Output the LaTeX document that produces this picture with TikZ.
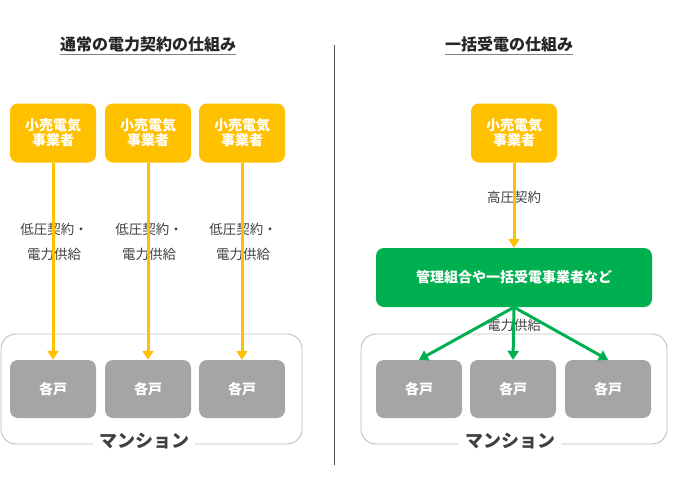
\documentclass[tikz,border=0pt]{standalone}
\usepackage{fontspec}
\setmainfont{Noto Sans CJK JP}
\usetikzlibrary{arrows.meta}
\definecolor{orng}{HTML}{FFC000}
\definecolor{grn}{HTML}{00B050}
\definecolor{gbox}{HTML}{A5A5A5}
\definecolor{gline}{HTML}{BFBFBF}
\definecolor{txt}{HTML}{404040}
\begin{document}
\begin{tikzpicture}[x=1pt,y=-1pt,
  supbox/.style={fill=orng,rounded corners=8pt,minimum width=86pt,minimum height=59pt,text=white,font=\fontsize{14}{17}\selectfont\bfseries,align=center,inner sep=0pt},
  unitbox/.style={fill=gbox,rounded corners=8pt,minimum width=86pt,minimum height=58pt,text=white,font=\fontsize{14}{17}\selectfont\bfseries,inner sep=0pt},
  mgrbox/.style={fill=grn,rounded corners=8pt,minimum width=276pt,minimum height=59pt,text=white,font=\fontsize{14}{17}\selectfont\bfseries,inner sep=0pt},
  mansion/.style={draw=gline,line width=0.9pt,rounded corners=15pt},
  mlabel/.style={fill=white,text=txt,font=\fontsize{18}{20}\selectfont\bfseries,inner xsep=6pt,inner ysep=0pt},
  lbl/.style={text=txt,font=\fontsize{13.5}{25}\selectfont,align=center},
  ttl/.style={text=black!85,font=\fontsize{16}{18}\selectfont\bfseries,inner sep=0pt},
  oarr/.style={draw=orng,line width=3pt,-{Triangle[width=11pt,length=9pt]}},
  garr/.style={draw=grn,line width=3pt,-{Triangle[width=11pt,length=9pt]}},
  uline/.style={draw=gray,line width=0.9pt}
]
\useasboundingbox (0,0) rectangle (679,479);
% titles
\node[ttl] (t1) at (148,44) {通常の電力契約の仕組み};
\node[ttl] (t2) at (509,44) {一括受電の仕組み};
\draw[uline] (t1.south west) ++(0,3) coordinate (u1a) -- (u1a -| t1.south east);
\draw[uline] (t2.south west) ++(0,3) coordinate (u2a) -- (u2a -| t2.south east);
% divider
\coordinate (dtop) at (334,45);
\coordinate (dbot) at (334,465);
\draw[draw=txt!90,line width=0.9pt] (dtop) -- (dbot);
% left mansion
\draw[mansion] (1,334) rectangle (302,444);
\node[mlabel] (m1) at (144,441) {マンション};
% right mansion
\draw[mansion] (361,334) rectangle (667,444);
\node[mlabel] (m2) at (510,441) {マンション};
% left side
\foreach \i/\x in {1/53,2/148,3/242}{
  \node[supbox] (s\i) at (\x,133) {小売電気\\[-2pt]事業者};
  \node[unitbox] (h\i) at (\x,389) {各戸};
  \node[lbl] (l\i) at (\x+1,242) {低圧契約・\\電力供給};
  \draw[oarr] (s\i.south) -- (h\i.north);
}
% right side
\node[supbox] (rs) at (514,133) {小売電気\\[-2pt]事業者};
\node[mgrbox] (g) at (514,277.5) {管理組合や一括受電事業者など};
\node[lbl] (hp) at (514,197) {高圧契約};
\draw[oarr] (rs.south) -- (g.north);
\node[unitbox] (r1) at (419,389) {各戸};
\node[unitbox] (r2) at (513,389) {各戸};
\node[unitbox] (r3) at (608,389) {各戸};
\node[lbl] (ds) at (514,325) {電力供給};
\draw[garr] (g.south) -- (r1.north);
\draw[garr] (g.south) -- (r2.north);
\draw[garr] (g.south) -- (r3.north);
\end{tikzpicture}
\end{document}
